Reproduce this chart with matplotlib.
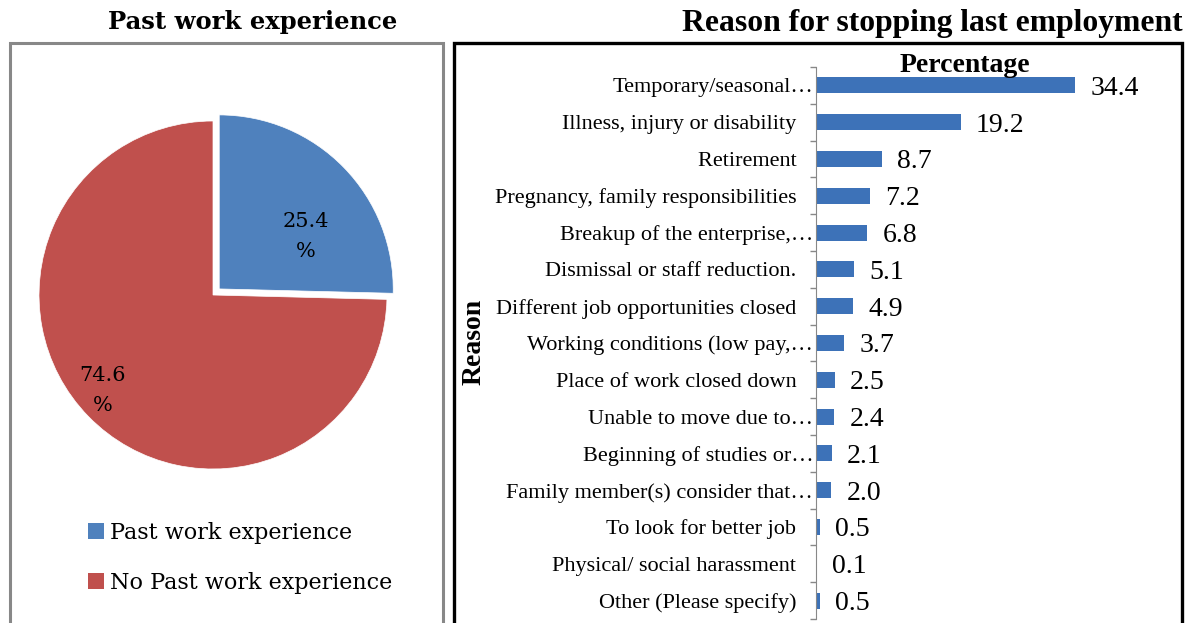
import matplotlib.pyplot as plt
from matplotlib.patches import Rectangle, Patch
import numpy as np

# pie data
pie_labels = ['Past work experience', 'No Past work experience']
pie_values = [25.4, 74.6]
pie_colors = ['#4F81BD', '#C0504D']

# bar data (top to bottom)
reasons = ['Temporary/seasonal…', 'Illness, injury or disability', 'Retirement',
           'Pregnancy, family responsibilities', 'Breakup of the enterprise,…',
           'Dismissal or staff reduction.', 'Different job opportunities closed',
           'Working conditions (low pay,…', 'Place of work closed down',
           'Unable to move due to…', 'Beginning of studies or…',
           'Family member(s) consider that…', 'To look for better job',
           'Physical/ social harassment', 'Other (Please specify)']
percentages = [34.4, 19.2, 8.7, 7.2, 6.8, 5.1, 4.9, 3.7, 2.5, 2.4, 2.1, 2.0, 0.5, 0.1, 0.5]

W, H = 1188, 623
fig = plt.figure(figsize=(W / 100, H / 100), dpi=100)


def px(x0, y0, x1, y1):
    # pixel box (top-left origin) -> figure fraction rect
    return [x0 / W, 1 - y1 / H, (x1 - x0) / W, (y1 - y0) / H]


serif = 'DejaVu Serif'
narrow = 'Liberation Serif'

# panel borders
fig.add_artist(Rectangle((10 / W, -0.05), 433 / W, 1 - 43 / H + 0.05, transform=fig.transFigure,
                         fill=False, edgecolor='#888888', lw=2.2))
fig.add_artist(Rectangle((454 / W, -0.05), 728 / W, 1 - 43 / H + 0.05, transform=fig.transFigure,
                         fill=False, edgecolor='black', lw=2.4))

# ---- pie ----
cx, cy, r = 213, 295, 174
lim = 1.1
ax1 = fig.add_axes(px(cx - r * lim, cy - r * lim, cx + r * lim, cy + r * lim))
wedges, _ = ax1.pie(pie_values, colors=pie_colors, startangle=90, counterclock=False,
                    explode=[0.05, 0], wedgeprops=dict(edgecolor='white', linewidth=0.5))
ax1.set_xlim(-lim, lim)
ax1.set_ylim(-lim, lim)
ax1.set_aspect('equal')
# label distance and angle shift from the wedge bisector
dists = [0.58, 0.84]
shifts = [-13, -3.5]
for w, v, d, s in zip(wedges, pie_values, dists, shifts):
    ang = np.deg2rad((w.theta1 + w.theta2) / 2 + s)
    ox, oy = w.center
    ax1.text(ox + d * np.cos(ang), oy + d * np.sin(ang), f'{v}\n%', ha='center', va='center',
             fontsize=15, family=serif, linespacing=1.7)

fig.text(253 / W, 1 - 22 / H, 'Past work experience', ha='center', va='center',
         fontsize=17.5, fontweight='bold', family=serif)

handles = [Patch(facecolor=c) for c in pie_colors]
fig.legend(handles, pie_labels, loc='upper left', bbox_to_anchor=(68 / W, 1 - 502 / H),
           frameon=False, prop={'family': serif, 'size': 16}, handlelength=0.7,
           handleheight=0.7, handletextpad=0.3, labelspacing=1.25)

# ---- bars ----
ax2 = fig.add_axes(px(816, 67, 1155, 619))
y = np.arange(len(reasons))
bars = ax2.barh(y, percentages, height=0.44, color='#3D72B8')
ax2.set_ylim(len(reasons) - 0.5, -0.5)
ax2.set_xlim(0, 45)
ax2.set_yticks(y)
# labels without an ellipsis keep a gap before the axis
ticklabels = [t if t.endswith('…') else t + '   ' for t in reasons]
ax2.set_yticklabels(ticklabels, family=narrow, fontsize=16)
ax2.set_yticks(np.arange(len(reasons) + 1) - 0.5, minor=True)
ax2.tick_params(axis='y', which='major', length=0, pad=2)
ax2.tick_params(axis='y', which='minor', length=4, color='#888888', width=1)
ax2.set_xticks([])
for s in ['top', 'right', 'bottom']:
    ax2.spines[s].set_visible(False)
ax2.spines['left'].set_color('#888888')
vals = ax2.bar_label(bars, labels=[f'{v:.1f}' for v in percentages], padding=11,
                     fontsize=20, family=narrow)
for t in vals:
    t.set_verticalalignment('center_baseline')

fig.text(965 / W, 1 - 66 / H, 'Percentage', ha='center', va='center',
         fontsize=20, fontweight='bold', family=narrow)
fig.text(474 / W, 1 - 342 / H, 'Reason', ha='center', va='center', rotation=90,
         fontsize=20, fontweight='bold', family=narrow)
fig.text(1183 / W, 1 - 23 / H, 'Reason for stopping last employment', ha='right', va='center',
         fontsize=22.8, fontweight='bold', family=narrow)

fig.savefig('out.png', dpi=100)
